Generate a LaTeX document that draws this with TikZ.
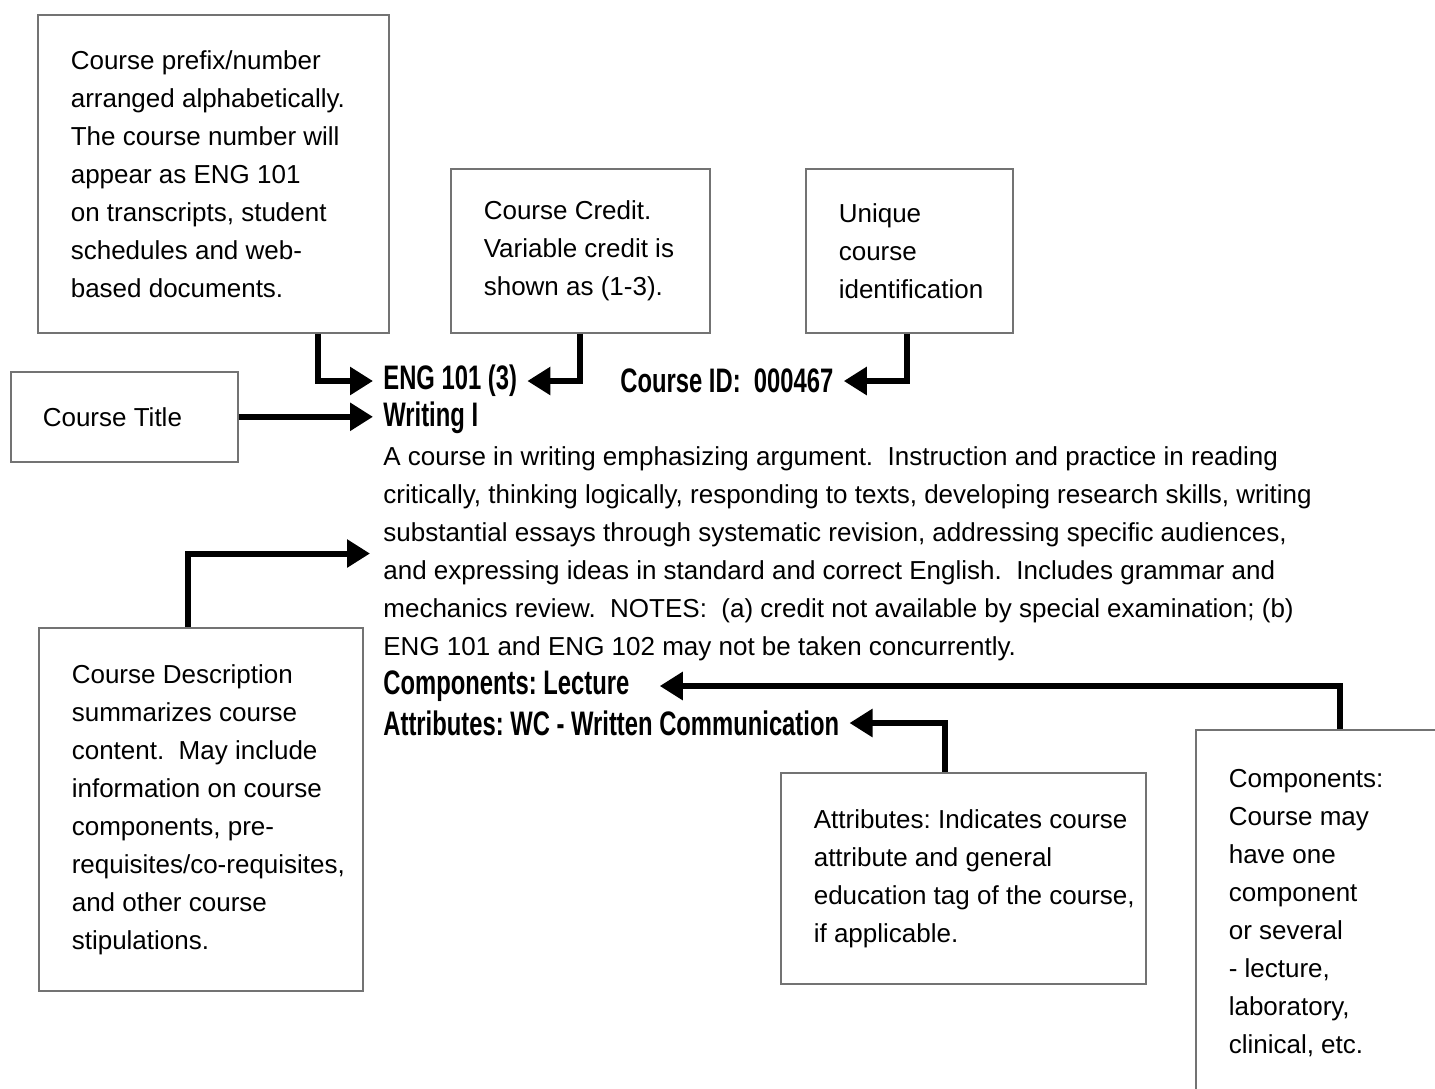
\documentclass[tikz,border=0pt]{standalone}
\usepackage{fontspec}
\setmainfont{Liberation Sans}
\newfontfamily\headfont[FakeStretch=0.7]{Liberation Sans}
\usepackage{tikz}
\usetikzlibrary{arrows.meta, positioning}
\frenchspacing

% a line of a note, set to the note's inner width
\newcommand{\fitline}[2]{\makebox[#1][l]{#2}}

\tikzset{
	note/.style={draw=black!55, line width=0.8pt, anchor=north west, align=left, inner xsep=16.5pt, inner ysep=0pt, font=\fontsize{13}{19}\selectfont},
	entry/.style={anchor=west, inner xsep=5pt, inner ysep=0pt, font=\headfont\bfseries\fontsize{17}{20}\selectfont},
	link/.style={line width=3pt, -{Triangle[length=11.5pt,width=13.5pt]}}
}

\begin{document}
\begin{tikzpicture}[x=0.5pt, y=-0.5pt]
			\useasboundingbox (0,0) rectangle (1435,1088);
			\clip (0,0) rectangle (1435,1088);

			% Nodes
			\node (prefix) [note, minimum height=159pt] at (37,14) {\fitline{142.5pt}{Course prefix/number}\\arranged alphabetically.\\The course number will\\appear as ENG 101\\on transcripts, student\\schedules and web-\\based documents.};
			\node (credit) [note, minimum height=82pt] at (450,168) {\fitline{96.5pt}{Course Credit.}\\Variable credit is\\shown as (1-3).};
			\node (unique) [note, minimum height=82pt] at (805,168) {\fitline{70.5pt}{Unique}\\course\\\fitline{70.5pt}{identification}};
			\node (title) [note, inner xsep=16pt, minimum height=45pt] at (10,371) {\fitline{81.5pt}{Course Title}};
			\node (descbox) [note, minimum height=181.5pt] at (38,627) {\fitline{129pt}{Course Description}\\summarizes course\\content.\ \ May include\\information on course\\components, pre-\\\fitline{129pt}{requisites/co-requisites,}\\and other course\\stipulations.};
			\node (attrbox) [note, minimum height=105.5pt] at (780,772) {\fitline{149.5pt}{Attributes: Indicates course}\\attribute and general\\\fitline{149.5pt}{education tag of the course,}\\if applicable.};
			\node (compbox) [note, minimum height=183pt] at (1195,729) {\fitline{117pt}{Components:}\\Course may\\have one\\component\\or several\\- lecture,\\laboratory,\\clinical, etc.};

			\node (eng) [entry] at (373,381) {ENG 101 (3)};
			\node (cid) [entry] at (610,381) {Course ID:\ \ 000467};
			\node (writing) [entry] at (373,418) {Writing I};
			\node (para) [anchor=north west, align=left, inner xsep=6.5pt, inner ysep=0pt, font=\fontsize{13}{19}\selectfont] at (370,446) {A course in writing emphasizing argument.\ \ Instruction and practice in reading\\critically, thinking logically, responding to texts, developing research skills, writing\\substantial essays through systematic revision, addressing specific audiences,\\and expressing ideas in standard and correct English.\ \ Includes grammar and\\mechanics review.\ \ NOTES:\ \ (a) credit not available by special examination; (b)\\ENG 101 and ENG 102 may not be taken concurrently.};
			\node (lect) [entry] at (373,686) {Components: Lecture};
			\node (attr) [entry] at (373,723) {Attributes: WC - Written Communication};

			% Edges
			\draw[link] (prefix.south west) ++(281,0) |- (eng.west);
			\draw[link] (credit.south west) ++(130,0) |- (eng.east);
			\draw[link] (unique.south west) ++(102,0) |- (cid.east);
			\draw[link] (title.east) -- (title.east -| writing.west);
			\draw[link] (descbox.north west) ++(150,0) |- (para.west);
			\draw[link, shorten >=10pt] (compbox.north west) ++(145,0) |- (lect.east);
			\draw[link] (attrbox.north west) ++(165,0) |- (attr.east);

		\end{tikzpicture}
\end{document}
